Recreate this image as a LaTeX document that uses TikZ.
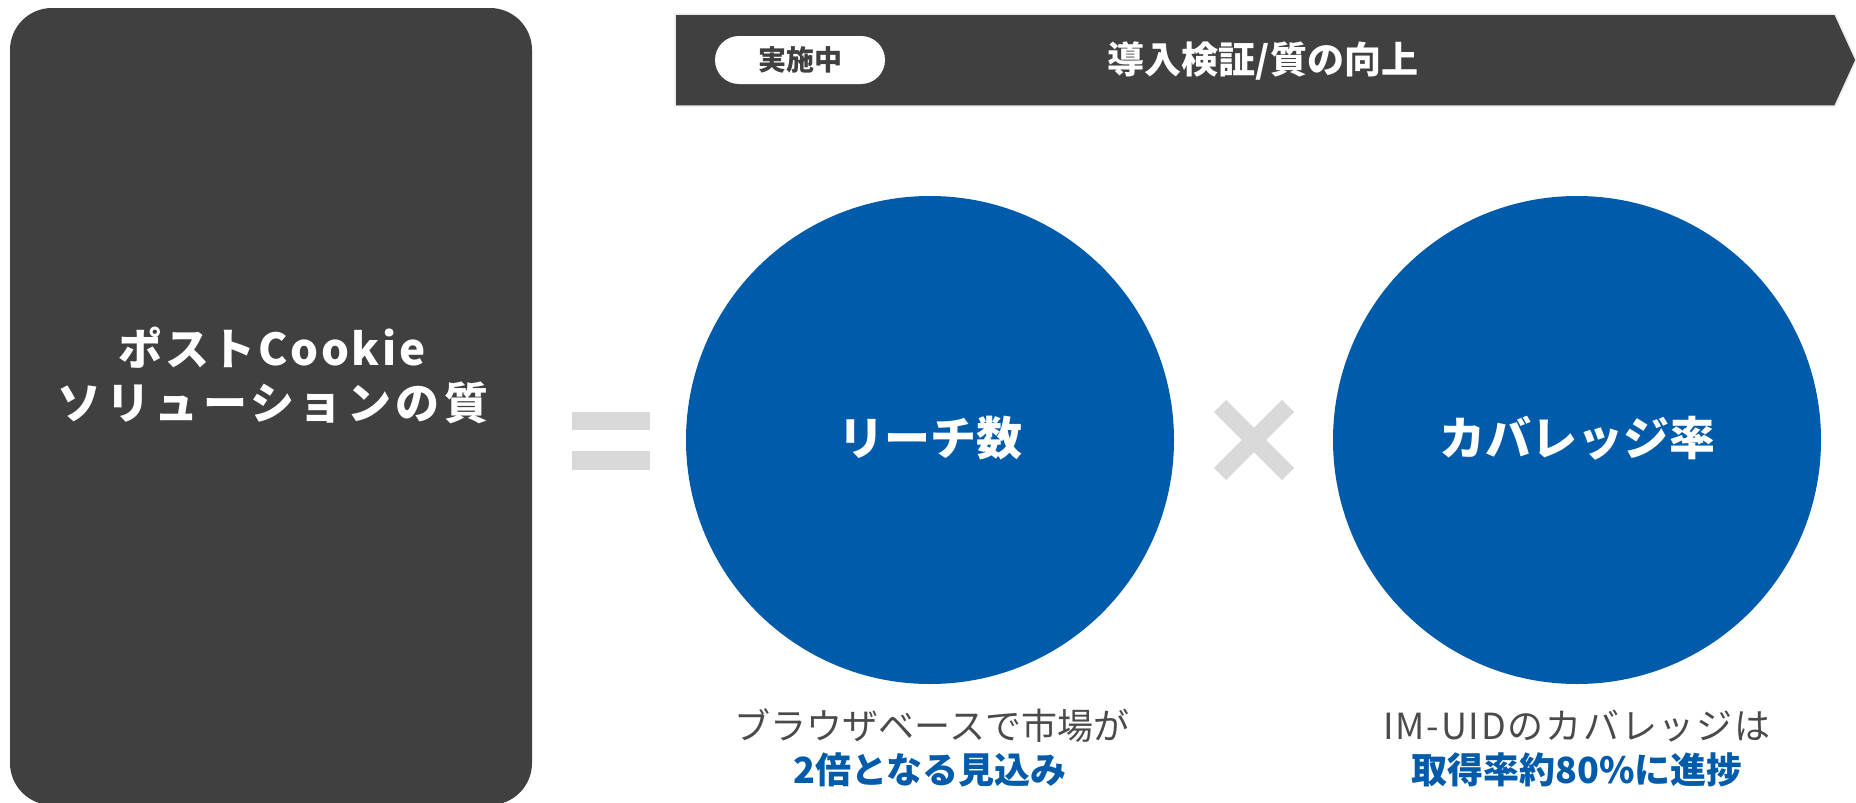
\documentclass[tikz,border=0pt]{standalone}
\usepackage{fontspec}
\setmainfont{Noto Sans CJK JP}
\newfontfamily\jpwide[LetterSpace=6]{Noto Sans CJK JP}
\newfontfamily\jpwider[LetterSpace=10]{Noto Sans CJK JP}
\newfontfamily\jpcap[LetterSpace=5]{Noto Sans CJK JP}
\definecolor{darkbg}{HTML}{404040}
\definecolor{blueC}{HTML}{005BAA}
\definecolor{lightg}{HTML}{D9D9D9}
\definecolor{edgeg}{HTML}{ECECEC}
\definecolor{textg}{HTML}{404040}
\definecolor{capg}{HTML}{4A4A4A}
\tikzset{
  txt/.style={inner sep=0pt, anchor=base},
  bigcircle/.style={circle, fill=blueC, draw=none, minimum size=488pt, inner sep=0pt},
  symb/.style={fill=lightg, draw=none},
}
\begin{document}
\begin{tikzpicture}[x=1pt,y=-1pt]
\useasboundingbox (0,0) rectangle (1856,803);
% left box
\fill[darkbg, rounded corners=42pt] (10,8) rectangle (532,805);
\node[txt, text=white] (l1) at (272,365) {\jpwide\fontsize{44}{52}\selectfont\bfseries ポストCookie};
\node[txt, text=white] (l2) at (273,419) {\jpwider\fontsize{44}{52}\selectfont\bfseries ソリューションの質};
% banner
\filldraw[fill=darkbg, draw=edgeg, line width=1.5pt] (675,14) -- (1835,14) -- (1856,60) -- (1835,106) -- (675,106) -- cycle;
\node[fill=white, rounded corners=24pt, minimum width=170pt, minimum height=48pt, inner sep=0pt] (pill) at (800,60) {};
\node[txt, text=textg] (pilltxt) at (800,70) {\fontsize{28}{32}\selectfont\bfseries 実施中};
\node[txt, text=white] (title) at (1263,73) {\fontsize{37}{42}\selectfont\bfseries 導入検証/質の向上};
% equals
\fill[symb] (572,412) rectangle (650,430);
\fill[symb] (572,451) rectangle (650,470);
% circles
\node[bigcircle] (c1) at (930,440) {};
\node[bigcircle] (c2) at (1577,440) {};
\node[txt, text=white] (c1t) at (930,455) {\fontsize{46}{52}\selectfont\bfseries リーチ数};
\node[txt, text=white] (c2t) at (1577,455) {\fontsize{46}{52}\selectfont\bfseries カバレッジ率};
% times
\draw[lightg, line width=17pt] (1220,406) -- (1288,474);
\draw[lightg, line width=17pt] (1220,474) -- (1288,406);
% captions
\node[txt, text=capg] (g1) at (932,739) {\fontsize{36}{40}\selectfont ブラウザベースで市場が};
\node[txt, text=blueC] (b1) at (930,783) {\fontsize{36}{40}\selectfont\bfseries 2倍となる見込み};
\node[txt, text=capg] (g2) at (1577,739) {\jpcap\fontsize{36}{40}\selectfont IM-UIDのカバレッジは};
\node[txt, text=blueC] (b2) at (1577,783) {\fontsize{36}{40}\selectfont\bfseries 取得率約80\%に進捗};
\end{tikzpicture}
\end{document}
